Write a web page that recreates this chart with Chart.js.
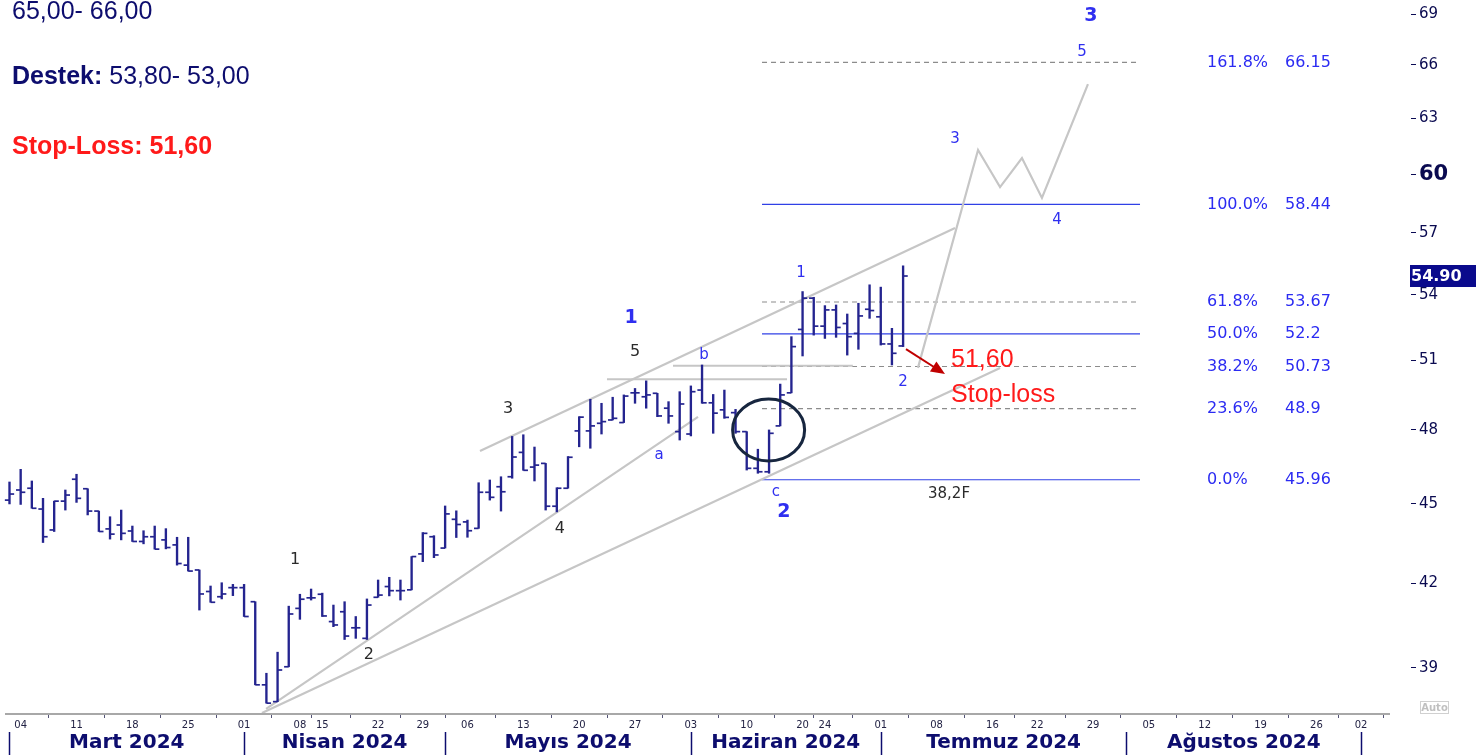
<!DOCTYPE html>
<html><head><meta charset="utf-8">
<script src="https://cdn.jsdelivr.net/npm/chart.js@4.4.1/dist/chart.umd.min.js"></script>
<style>html,body{margin:0;padding:0;background:#fff;overflow:hidden}#wrap{position:relative;width:1476px;height:755px}</style>
</head><body><div id="wrap"><canvas id="c" width="1476" height="755"></canvas></div>
<script>
// ---- data ----
const days = ["2024-03-01","2024-03-04","2024-03-05","2024-03-06","2024-03-07","2024-03-08","2024-03-11","2024-03-12","2024-03-13","2024-03-14","2024-03-15","2024-03-18","2024-03-19","2024-03-20","2024-03-21","2024-03-22","2024-03-25","2024-03-26","2024-03-27","2024-03-28","2024-03-29",
"2024-04-01","2024-04-02","2024-04-03","2024-04-04","2024-04-05","2024-04-08","2024-04-09","2024-04-15","2024-04-16","2024-04-17","2024-04-18","2024-04-19","2024-04-22","2024-04-24","2024-04-25","2024-04-26","2024-04-29","2024-04-30",
"2024-05-02","2024-05-03","2024-05-06","2024-05-07","2024-05-08","2024-05-09","2024-05-10","2024-05-13","2024-05-14","2024-05-15","2024-05-16","2024-05-17","2024-05-20","2024-05-21","2024-05-22","2024-05-23","2024-05-24","2024-05-27","2024-05-28","2024-05-29","2024-05-30","2024-05-31",
"2024-06-03","2024-06-04","2024-06-05","2024-06-06","2024-06-07","2024-06-10","2024-06-11","2024-06-12","2024-06-13","2024-06-14","2024-06-20","2024-06-21","2024-06-24","2024-06-25","2024-06-26","2024-06-27","2024-06-28",
"2024-07-01","2024-07-02","2024-07-03"];
const openP  = [45.15,45.55,45.62,44.80,43.99,45.11,45.98,45.60,44.72,44.03,44.18,43.95,43.55,43.73,43.61,43.42,42.66,42.48,41.69,41.50,41.83,41.83,41.32,38.43,37.87,39.04,41.08,41.46,41.59,40.61,40.96,40.39,40.02,41.48,41.87,41.72,41.75,43.08,43.73,43.30,44.40,44.30,44.05,45.46,45.68,46.08,47.07,46.47,46.62,44.91,45.62,47.96,47.96,48.28,48.42,48.31,49.58,49.41,49.56,48.92,47.93,47.83,49.70,49.15,48.85,48.73,47.93,46.42,46.28,48.17,49.58,52.40,53.85,52.55,53.30,52.67,52.22,53.33,52.98,51.74,51.65];
const highP  = [45.87,46.38,45.91,45.22,45.11,45.55,46.18,45.60,44.72,44.50,44.76,44.14,43.96,44.14,44.04,43.71,43.71,42.48,41.89,42.01,41.95,41.95,41.32,38.82,39.54,41.16,41.59,41.78,41.63,41.20,41.32,40.79,41.42,42.11,42.21,42.11,42.98,43.89,43.77,44.92,44.73,44.37,45.84,45.95,46.08,47.73,47.80,47.29,46.62,45.64,46.90,48.56,49.30,49.13,49.39,49.49,49.77,50.10,49.56,49.20,49.63,49.88,50.80,49.51,49.70,48.87,47.93,47.20,48.00,49.96,52.07,54.16,53.89,53.50,53.53,53.11,53.61,54.48,54.37,52.45,55.39];
const lowP   = [45.00,44.98,44.83,43.51,43.93,44.76,45.06,44.57,43.93,43.64,43.61,43.55,43.46,43.26,43.27,42.66,42.44,41.02,41.30,41.42,41.54,40.79,38.43,37.82,37.87,39.04,40.69,41.38,40.79,40.43,39.98,40.02,39.98,41.48,41.53,41.38,41.75,42.79,42.94,43.30,43.70,43.71,44.05,45.15,44.72,46.02,46.34,45.91,44.76,44.69,45.62,47.30,47.24,47.83,48.42,48.31,49.13,48.92,48.56,48.28,47.58,47.75,49.13,47.86,48.49,47.86,46.35,46.22,46.22,48.17,49.58,51.20,52.14,51.99,52.04,51.24,51.50,52.91,51.69,50.80,51.62];
const closeP = [45.39,45.46,44.83,43.73,45.11,45.35,45.22,44.72,43.93,43.83,43.86,43.55,43.73,43.26,43.32,42.72,42.44,41.60,41.30,41.60,41.83,40.79,38.43,37.82,38.93,40.88,41.41,41.46,40.81,40.49,40.10,40.39,41.20,41.56,41.72,41.72,42.98,43.86,43.04,44.61,44.20,43.96,45.46,45.26,45.48,46.88,46.34,46.55,44.91,45.62,46.87,48.54,48.17,48.35,48.49,49.44,49.58,49.49,48.59,48.59,49.10,49.63,49.15,48.71,48.53,47.93,46.42,46.28,47.86,49.49,51.62,53.85,52.55,53.30,52.49,52.07,53.02,53.27,51.74,51.32,54.90];
const lastPrice = 54.90;

const weekTickIdx = [1,6,11,16,21,26,28,33,37,41,46,51,56,61,66,71,73,78,83,88,92,97,102,107,112,117,121];
const weekTickLabels = ["04","11","18","25","01","08","15","22","29","06","13","20","27","03","10","20","24","01","08","16","22","29","05","12","19","26","02"];
const monthNames = ["Mart 2024","Nisan 2024","Mayıs 2024","Haziran 2024","Temmuz 2024","Ağustos 2024"];
const monthStartIdx = [0,21,39,61,78,100,121];
const priceTicks = [39,42,45,48,51,54,57,60,63,66,69];

const fibPct = ["161.8%","100.0%","61.8%","50.0%","38.2%","23.6%","0.0%"];
const fibVal = [66.15,58.44,53.67,52.2,50.73,48.9,45.96];
const fibTxt = ["66.15","58.44","53.67","52.2","50.73","48.9","45.96"];
const fibSolid = [false,true,false,true,false,false,true];

// drawn analysis lines (in trading-day index / price units)
const trendUpper = [[42.12,47.13],[84.65,57.25]];
const trendInner = [[22.97,37.63],[61.64,48.55]];
const trendOuter = [[22.60,37.50],[88.68,50.67]];
const levelA = [[59.4,50.76],[75.5,50.76]];
const levelB = [[53.49,50.17],[69.61,50.17]];
const projection = [[81.33,50.67],[86.71,61.28],[88.68,59.33],[90.64,60.85],[92.43,58.77],[96.55,64.91]];
const fibFrom = 67.37, fibTo = 101.21;

const BLUE = '#2f2ff0', BLACK = '#2a2a2a', RED = '#ff1a1a', NAVY = '#0d0d6e';
const waveLabels = [
  ['3',96.82,68.88,BLUE,'bold 19px "DejaVu Sans"'],
  ['5',96.02,66.75,BLUE,'15px "DejaVu Sans"'],
  ['3',84.65,61.87,BLUE,'15px "DejaVu Sans"'],
  ['4',93.78,57.65,BLUE,'15px "DejaVu Sans"'],
  ['1',70.86,55.04,BLUE,'15px "DejaVu Sans"'],
  ['2',79.99,50.05,BLUE,'15px "DejaVu Sans"'],
  ['1',55.64,52.92,BLUE,'bold 19px "DejaVu Sans"'],
  ['5',56.00,51.38,BLACK,'16px "DejaVu Sans"'],
  ['b',62.18,51.24,BLUE,'15px "DejaVu Sans"'],
  ['3',44.63,48.89,BLACK,'16px "DejaVu Sans"'],
  ['a',58.15,46.96,BLUE,'15px "DejaVu Sans"'],
  ['4',49.28,44.03,BLACK,'16px "DejaVu Sans"'],
  ['c',68.62,45.47,BLUE,'15px "DejaVu Sans"'],
  ['2',69.33,44.68,BLUE,'bold 19px "DejaVu Sans"'],
  ['38,2F',84.11,45.39,BLACK,'15px "DejaVu Sans"'],
  ['1',25.56,42.85,BLACK,'16px "DejaVu Sans"'],
  ['2',32.18,39.44,BLACK,'16px "DejaVu Sans"']
];

// ---- datasets ----
const pts = a => a.map(p => ({x:p[0], y:p[1]}));
const lineDs = (d, color, w, dash, order) => ({type:'line', data:pts(d), borderColor:color, borderWidth:w, borderDash:dash||[], pointRadius:0, fill:false, tension:0, order:order});
const datasets = [];
datasets.push({type:'bar', data: days.map((d,i)=>({x:i, y:[lowP[i], highP[i]]})), backgroundColor:'#24248f', borderWidth:0, barThickness:1.7, order:1});
datasets.push({type:'line', showLine:false, data: days.map((d,i)=>({x:i-0.21, y:openP[i]})), pointStyle:'line', pointRadius:2.3, pointBorderWidth:1.7, pointBorderColor:'#24248f', pointBackgroundColor:'#24248f', order:0});
datasets.push({type:'line', showLine:false, data: days.map((d,i)=>({x:i+0.21, y:closeP[i]})), pointStyle:'line', pointRadius:2.3, pointBorderWidth:1.7, pointBorderColor:'#24248f', pointBackgroundColor:'#24248f', order:0});
fibVal.forEach((v,k) => {
  datasets.push(lineDs([[fibFrom,v],[fibTo,v]], fibSolid[k] ? '#3040e6' : '#8c8c8c', fibSolid[k] ? 1.2 : 1.1, fibSolid[k] ? [] : [5,4], 4));
});
datasets.push(lineDs(trendUpper,'#c6c6c6',2.2,null,3));
datasets.push(lineDs(trendInner,'#c6c6c6',2.2,null,3));
datasets.push(lineDs(trendOuter,'#c6c6c6',2.2,null,3));
datasets.push(lineDs(levelA,'#c6c6c6',2,null,3));
datasets.push(lineDs(levelB,'#c6c6c6',2,null,3));
datasets.push(lineDs(projection,'#c6c6c6',2.2,null,3));

const overlay = {
  id:'overlay',
  afterDraw(chart){
    const ctx = chart.ctx, xs = chart.scales.x, ys = chart.scales.y;
    const X = i => xs.getPixelForValue(i), Y = v => ys.getPixelForValue(v);
    ctx.save();
    // x axis base line
    ctx.strokeStyle = '#a8a8a8'; ctx.lineWidth = 2;
    ctx.beginPath(); ctx.moveTo(5, 714); ctx.lineTo(1390, 714); ctx.stroke();
    // month separators + names
    ctx.strokeStyle = NAVY; ctx.lineWidth = 1.5;
    monthStartIdx.forEach(i => { const x = Math.round(X(i)) + 0.5; ctx.beginPath(); ctx.moveTo(x, 732); ctx.lineTo(x, 755); ctx.stroke(); });
    ctx.fillStyle = NAVY; ctx.font = 'bold 20px "DejaVu Sans"'; ctx.textAlign = 'center'; ctx.textBaseline = 'middle';
    monthNames.forEach((m,k) => ctx.fillText(m, (X(monthStartIdx[k]) + X(monthStartIdx[k+1]))/2, 743));
    // fib labels
    ctx.fillStyle = '#2b2bf2'; ctx.font = '16px "DejaVu Sans"'; ctx.textAlign = 'left';
    fibVal.forEach((v,k) => { ctx.fillText(fibPct[k], 1207, Y(v)); ctx.fillText(fibTxt[k], 1285, Y(v)); });
    // wave labels
    ctx.textAlign = 'center';
    waveLabels.forEach(l => { ctx.fillStyle = l[3]; ctx.font = l[4]; ctx.fillText(l[0], X(l[1]), Y(l[2])); });
    // stop-loss note
    ctx.fillStyle = RED; ctx.font = '25px "Liberation Sans"'; ctx.textAlign = 'left';
    ctx.fillText('51,60', X(84.29), Y(51.02));
    ctx.fillText('Stop-loss', X(84.29), Y(49.48));
    // arrow
    const ax1 = X(80.26), ay1 = Y(51.51), ax2 = X(83.75), ay2 = Y(50.40);
    const ang = Math.atan2(ay2-ay1, ax2-ax1);
    ctx.strokeStyle = '#c00000'; ctx.fillStyle = '#c00000'; ctx.lineWidth = 2;
    ctx.beginPath(); ctx.moveTo(ax1, ay1); ctx.lineTo(ax2 - 8*Math.cos(ang), ay2 - 8*Math.sin(ang)); ctx.stroke();
    ctx.beginPath(); ctx.moveTo(ax2, ay2);
    ctx.lineTo(ax2 - 14*Math.cos(ang) + 6*Math.sin(ang), ay2 - 14*Math.sin(ang) - 6*Math.cos(ang));
    ctx.lineTo(ax2 - 14*Math.cos(ang) - 6*Math.sin(ang), ay2 - 14*Math.sin(ang) + 6*Math.cos(ang));
    ctx.closePath(); ctx.fill();
    // ellipse
    ctx.strokeStyle = '#17263f'; ctx.lineWidth = 3;
    ctx.beginPath(); ctx.ellipse(X(67.96), Y(48.0), 36, 31, 0, 0, Math.PI*2); ctx.stroke();
    // last price box
    const ly = Y(lastPrice);
    ctx.fillStyle = '#0a0a8c'; ctx.fillRect(1410, ly-11, 70, 22);
    ctx.fillStyle = '#ffffff'; ctx.font = 'bold 16px "DejaVu Sans"'; ctx.textAlign = 'left';
    ctx.fillText(lastPrice.toFixed(2), 1411, ly+1);
    // Auto
    ctx.strokeStyle = '#d0d0d0'; ctx.lineWidth = 1; ctx.strokeRect(1420.5, 701.5, 28, 12);
    ctx.fillStyle = '#c0c0c0'; ctx.font = 'bold 10px "DejaVu Sans"'; ctx.textAlign = 'center';
    ctx.fillText('Auto', 1434.5, 708);
    // top-left notes
    ctx.textAlign = 'left'; ctx.textBaseline = 'middle';
    ctx.fillStyle = NAVY; ctx.font = '25px "Liberation Sans"';
    ctx.fillText('65,00- 66,00', 12, 12);
    ctx.font = 'bold 25px "Liberation Sans"';
    ctx.fillText('Destek:', 12, 77);
    const w = ctx.measureText('Destek: ').width;
    ctx.font = '25px "Liberation Sans"';
    ctx.fillText('53,80- 53,00', 12 + w, 77);
    ctx.fillStyle = RED; ctx.font = 'bold 25px "Liberation Sans"';
    ctx.fillText('Stop-Loss: 51,60', 12, 147);
    ctx.restore();
  }
};

const noPad = s => { s.paddingTop = 0; s.paddingBottom = 0; s.paddingLeft = 0; s.paddingRight = 0; };

new Chart(document.getElementById('c'), {
  data:{ datasets },
  options:{
    responsive:false, animation:false, devicePixelRatio:1, events:[],
    layout:{padding:0, autoPadding:false},
    plugins:{legend:{display:false}, tooltip:{enabled:false}},
    scales:{
      x:{ type:'linear', min:-0.85, max:125.47, bounds:'data', offset:false,
        grid:{drawOnChartArea:false, tickLength:4, color:'#555577'},
        border:{display:false},
        afterBuildTicks: s => { s.ticks = weekTickIdx.map(v => ({value:v})); },
        ticks:{autoSkip:false, maxRotation:0, padding:1, color:'#222244', font:{family:'DejaVu Sans', size:10}, callback:(v,i)=>weekTickLabels[i]},
        afterFit: s => { s.height = 41; noPad(s); }
      },
      y:{ type:'logarithmic', position:'right', min:37.464, max:69.848, bounds:'data',
        grid:{drawOnChartArea:false, tickLength:5, color:'#0b0b55'},
        border:{display:false},
        afterBuildTicks: s => { s.ticks = priceTicks.map(v => ({value:v})); },
        ticks:{autoSkip:false, padding:3, color:'#0a0a50',
          font: c => (c.tick && c.tick.value === 60) ? {family:'DejaVu Sans', size:21, weight:'bold'} : {family:'DejaVu Sans', size:15},
          callback: v => String(v)},
        afterFit: s => { s.width = 65; noPad(s); }
      }
    }
  },
  plugins:[overlay]
});
</script></body></html>
